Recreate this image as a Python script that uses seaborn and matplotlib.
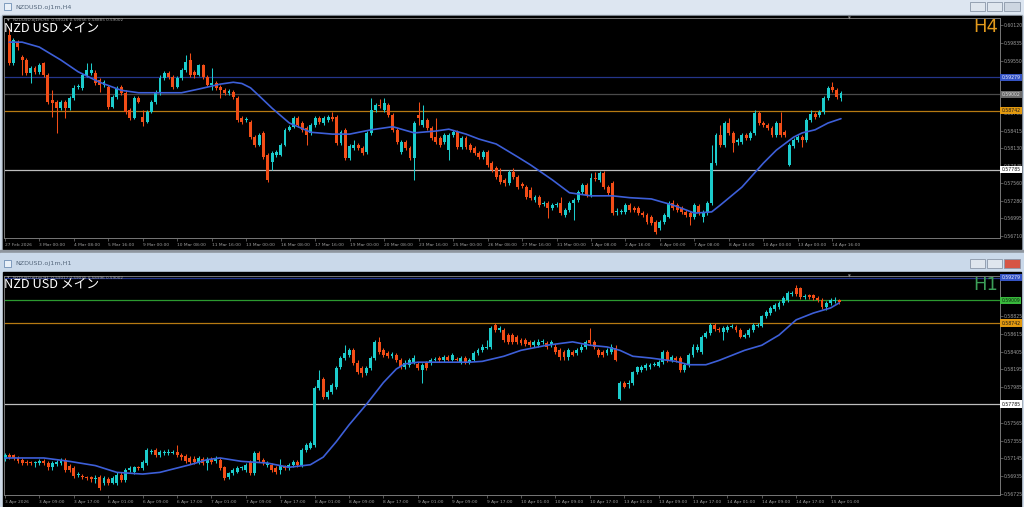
import numpy as np
import seaborn as sns
import matplotlib.pyplot as plt
from matplotlib.patches import Rectangle

sns.set_style("dark")
plt.rcParams['font.family'] = ['DejaVu Sans']

# %% H4 window data (NZDUSD, 27 Feb - 14 Apr)
h4_open = [0.5997, 0.5951, 0.5985, 0.5961, 0.5956, 0.5935, 0.5943, 0.5937, 0.5951, 0.5932,
           0.5891, 0.5888, 0.5878, 0.5888, 0.5878, 0.5895, 0.5912, 0.5911, 0.5932, 0.5935,
           0.5935, 0.5924, 0.5916, 0.5912, 0.5880, 0.5896, 0.5912, 0.5903, 0.5875, 0.5862,
           0.5895, 0.5864, 0.5856, 0.5872, 0.5888, 0.5903, 0.5927, 0.5935, 0.5929, 0.5912,
           0.5927, 0.5940, 0.5956, 0.5937, 0.5932, 0.5948, 0.5929, 0.5916, 0.5919, 0.5912,
           0.5908, 0.5903, 0.5904, 0.5895, 0.5862, 0.5859, 0.5856, 0.5831, 0.5818, 0.5838,
           0.5802, 0.5791, 0.5802, 0.5802, 0.5818, 0.5843, 0.5848, 0.5862, 0.5854, 0.5846,
           0.5838, 0.5851, 0.5862, 0.5854, 0.5859, 0.5864, 0.5864, 0.5822, 0.5843, 0.5797,
           0.5813, 0.5818, 0.5813, 0.5807, 0.5838, 0.5875, 0.5883, 0.5875, 0.5883, 0.5867,
           0.5843, 0.5807, 0.5823, 0.5813, 0.5797, 0.5867, 0.5851, 0.5859, 0.5846, 0.5831,
           0.5830, 0.5823, 0.5810, 0.5835, 0.5840, 0.5815, 0.5830, 0.5818, 0.5813, 0.5805,
           0.5799, 0.5807, 0.5789, 0.5781, 0.5770, 0.5762, 0.5757, 0.5775, 0.5767, 0.5755,
           0.5750, 0.5746, 0.5729, 0.5734, 0.5723, 0.5724, 0.5716, 0.5721, 0.5724, 0.5705,
           0.5713, 0.5724, 0.5729, 0.5742, 0.5754, 0.5737, 0.5765, 0.5762, 0.5773, 0.5750,
           0.5757, 0.5710, 0.5710, 0.5710, 0.5721, 0.5716, 0.5716, 0.5708, 0.5705, 0.5702,
           0.5694, 0.5684, 0.5694, 0.5702, 0.5724, 0.5721, 0.5716, 0.5710, 0.5708, 0.5702,
           0.5720, 0.5702, 0.5708, 0.5724, 0.5789, 0.5835, 0.5818, 0.5854, 0.5838, 0.5823,
           0.5823, 0.5835, 0.5830, 0.5838, 0.5870, 0.5854, 0.5851, 0.5846, 0.5835, 0.5854,
           0.5840, 0.5786, 0.5817, 0.5827, 0.5831, 0.5827, 0.5859, 0.5869, 0.5867, 0.5872,
           0.5895, 0.5912, 0.5908, 0.5895]
h4_high = [0.6008, 0.5992, 0.5988, 0.5964, 0.5959, 0.5946, 0.5946, 0.5951, 0.5953, 0.5935,
           0.5908, 0.5891, 0.5891, 0.5891, 0.5898, 0.5916, 0.5917, 0.5935, 0.5951, 0.5951,
           0.5940, 0.5927, 0.5924, 0.5916, 0.5899, 0.5914, 0.5916, 0.5908, 0.5878, 0.5898,
           0.5898, 0.5875, 0.5875, 0.5891, 0.5908, 0.5932, 0.5938, 0.5938, 0.5932, 0.5930,
           0.5943, 0.5964, 0.5967, 0.5940, 0.5950, 0.5950, 0.5932, 0.5943, 0.5922, 0.5916,
           0.5911, 0.5909, 0.5908, 0.5898, 0.5865, 0.5864, 0.5859, 0.5835, 0.5838, 0.5841,
           0.5805, 0.5809, 0.5810, 0.5822, 0.5846, 0.5851, 0.5865, 0.5865, 0.5857, 0.5849,
           0.5854, 0.5865, 0.5865, 0.5865, 0.5867, 0.5872, 0.5867, 0.5843, 0.5846, 0.5820,
           0.5827, 0.5822, 0.5817, 0.5841, 0.5895, 0.5886, 0.5893, 0.5895, 0.5886, 0.5870,
           0.5846, 0.5827, 0.5827, 0.5817, 0.5857, 0.5888, 0.5883, 0.5862, 0.5849, 0.5862,
           0.5833, 0.5838, 0.5838, 0.5843, 0.5843, 0.5833, 0.5833, 0.5822, 0.5817, 0.5809,
           0.5810, 0.5810, 0.5792, 0.5784, 0.5781, 0.5765, 0.5778, 0.5781, 0.5770, 0.5758,
           0.5754, 0.5750, 0.5737, 0.5737, 0.5728, 0.5728, 0.5724, 0.5726, 0.5734, 0.5716,
           0.5728, 0.5732, 0.5746, 0.5757, 0.5757, 0.5773, 0.5775, 0.5776, 0.5776, 0.5754,
           0.5760, 0.5716, 0.5715, 0.5724, 0.5724, 0.5720, 0.5720, 0.5711, 0.5708, 0.5705,
           0.5697, 0.5697, 0.5708, 0.5728, 0.5729, 0.5724, 0.5720, 0.5713, 0.5711, 0.5724,
           0.5723, 0.5713, 0.5728, 0.5818, 0.5838, 0.5851, 0.5857, 0.5862, 0.5841, 0.5830,
           0.5838, 0.5838, 0.5841, 0.5875, 0.5873, 0.5857, 0.5854, 0.5849, 0.5857, 0.5872,
           0.5843, 0.5822, 0.5830, 0.5835, 0.5835, 0.5862, 0.5875, 0.5872, 0.5875, 0.5898,
           0.5914, 0.5920, 0.5911, 0.5906]
h4_low = [0.5948, 0.5948, 0.5972, 0.5932, 0.5932, 0.5919, 0.5933, 0.5933, 0.5929, 0.5885,
          0.5864, 0.5838, 0.5875, 0.5862, 0.5875, 0.5891, 0.5909, 0.5908, 0.5929, 0.5932,
          0.5916, 0.5904, 0.5912, 0.5877, 0.5878, 0.5893, 0.5899, 0.5869, 0.5859, 0.5861,
          0.5886, 0.5849, 0.5854, 0.5870, 0.5885, 0.5899, 0.5924, 0.5925, 0.5909, 0.5911,
          0.5924, 0.5937, 0.5929, 0.5927, 0.5930, 0.5925, 0.5914, 0.5908, 0.5908, 0.5895,
          0.5899, 0.5899, 0.5893, 0.5856, 0.5852, 0.5856, 0.5828, 0.5815, 0.5817, 0.5796,
          0.5758, 0.5778, 0.5799, 0.5800, 0.5817, 0.5841, 0.5846, 0.5848, 0.5840, 0.5818,
          0.5835, 0.5848, 0.5852, 0.5851, 0.5856, 0.5857, 0.5818, 0.5818, 0.5794, 0.5794,
          0.5810, 0.5810, 0.5802, 0.5804, 0.5835, 0.5872, 0.5878, 0.5872, 0.5864, 0.5840,
          0.5820, 0.5804, 0.5810, 0.5794, 0.5762, 0.5851, 0.5848, 0.5843, 0.5827, 0.5820,
          0.5815, 0.5820, 0.5794, 0.5831, 0.5812, 0.5812, 0.5812, 0.5807, 0.5802, 0.5796,
          0.5796, 0.5783, 0.5775, 0.5763, 0.5755, 0.5752, 0.5754, 0.5763, 0.5747, 0.5749,
          0.5731, 0.5729, 0.5726, 0.5718, 0.5720, 0.5700, 0.5713, 0.5718, 0.5705, 0.5702,
          0.5710, 0.5697, 0.5726, 0.5739, 0.5734, 0.5734, 0.5760, 0.5758, 0.5747, 0.5737,
          0.5705, 0.5705, 0.5706, 0.5707, 0.5710, 0.5710, 0.5705, 0.5702, 0.5690, 0.5689,
          0.5674, 0.5681, 0.5690, 0.5700, 0.5713, 0.5710, 0.5707, 0.5702, 0.5689, 0.5699,
          0.5705, 0.5694, 0.5705, 0.5721, 0.5786, 0.5815, 0.5815, 0.5835, 0.5807, 0.5818,
          0.5820, 0.5827, 0.5827, 0.5835, 0.5851, 0.5848, 0.5843, 0.5831, 0.5831, 0.5831,
          0.5831, 0.5784, 0.5813, 0.5823, 0.5815, 0.5823, 0.5856, 0.5861, 0.5864, 0.5869,
          0.5891, 0.5904, 0.5893, 0.5890]
h4_close = [0.5951, 0.5988, 0.5977, 0.5956, 0.5935, 0.5943, 0.5937, 0.5948, 0.5932, 0.5888,
            0.5886, 0.5878, 0.5888, 0.5878, 0.5895, 0.5911, 0.5914, 0.5932, 0.5940, 0.5940,
            0.5919, 0.5916, 0.5920, 0.5880, 0.5896, 0.5911, 0.5903, 0.5872, 0.5862, 0.5895,
            0.5888, 0.5856, 0.5872, 0.5888, 0.5903, 0.5927, 0.5935, 0.5929, 0.5912, 0.5927,
            0.5940, 0.5953, 0.5932, 0.5932, 0.5948, 0.5929, 0.5916, 0.5919, 0.5911, 0.5908,
            0.5903, 0.5906, 0.5896, 0.5859, 0.5856, 0.5861, 0.5831, 0.5818, 0.5835, 0.5799,
            0.5762, 0.5805, 0.5807, 0.5818, 0.5843, 0.5848, 0.5862, 0.5851, 0.5843, 0.5835,
            0.5851, 0.5862, 0.5856, 0.5862, 0.5864, 0.5861, 0.5822, 0.5840, 0.5797, 0.5817,
            0.5818, 0.5813, 0.5805, 0.5838, 0.5875, 0.5883, 0.5882, 0.5886, 0.5867, 0.5843,
            0.5823, 0.5823, 0.5813, 0.5797, 0.5854, 0.5862, 0.5859, 0.5846, 0.5830, 0.5823,
            0.5818, 0.5835, 0.5835, 0.5840, 0.5815, 0.5830, 0.5815, 0.5810, 0.5805, 0.5799,
            0.5807, 0.5786, 0.5778, 0.5767, 0.5758, 0.5757, 0.5775, 0.5767, 0.5750, 0.5752,
            0.5734, 0.5732, 0.5734, 0.5721, 0.5724, 0.5716, 0.5721, 0.5723, 0.5708, 0.5713,
            0.5724, 0.5729, 0.5742, 0.5754, 0.5737, 0.5765, 0.5763, 0.5773, 0.5750, 0.5741,
            0.5708, 0.5712, 0.5712, 0.5721, 0.5713, 0.5713, 0.5708, 0.5705, 0.5694, 0.5692,
            0.5678, 0.5694, 0.5705, 0.5724, 0.5716, 0.5713, 0.5710, 0.5705, 0.5702, 0.5721,
            0.5708, 0.5710, 0.5724, 0.5789, 0.5835, 0.5818, 0.5854, 0.5838, 0.5822, 0.5827,
            0.5835, 0.5830, 0.5838, 0.5870, 0.5854, 0.5851, 0.5846, 0.5835, 0.5854, 0.5835,
            0.5835, 0.5818, 0.5827, 0.5831, 0.5827, 0.5859, 0.5869, 0.5864, 0.5872, 0.5895,
            0.5911, 0.5908, 0.5896, 0.5903]
# moving average read at a few bars
h4_ma_bar = [0, 3, 7, 12, 16, 21, 26, 30, 35, 40, 44, 49, 52, 54, 56, 58, 61, 65, 70, 75,
             79, 84, 89, 94, 99, 102, 106, 109, 113, 118, 121, 126, 130, 135, 140, 144, 149,
             154, 156, 159, 163, 165, 170, 175, 178, 182, 184, 187, 190, 193]
h4_ma = [0.5985, 0.5985, 0.5977, 0.5956, 0.5937, 0.5920, 0.5907, 0.5903, 0.5903, 0.5903,
         0.5909, 0.5917, 0.5920, 0.5918, 0.5911, 0.5898, 0.5878, 0.5854, 0.5839, 0.5836,
         0.5836, 0.5843, 0.5848, 0.5838, 0.5841, 0.5844, 0.5836, 0.5828, 0.5820, 0.5799,
         0.5786, 0.5762, 0.5741, 0.5736, 0.5736, 0.5733, 0.5731, 0.5721, 0.5716, 0.5708,
         0.5710, 0.5721, 0.5750, 0.5789, 0.5810, 0.5831, 0.5838, 0.5843, 0.5854, 0.5861]
h4_dates = ["27 Feb 2026", "3 Mar 00:00", "4 Mar 08:00", "5 Mar 16:00", "9 Mar 00:00",
            "10 Mar 08:00", "11 Mar 16:00", "13 Mar 00:00", "16 Mar 08:00", "17 Mar 16:00",
            "19 Mar 00:00", "20 Mar 08:00", "23 Mar 16:00", "25 Mar 00:00", "26 Mar 08:00",
            "27 Mar 16:00", "31 Mar 00:00", "1 Apr 08:00", "2 Apr 16:00", "6 Apr 00:00",
            "7 Apr 08:00", "8 Apr 16:00", "10 Apr 00:00", "13 Apr 00:00", "14 Apr 16:00"]
# scale labels that are not hidden behind the level boxes
h4_prices = [0.60120, 0.59835, 0.59550, 0.58700, 0.58415, 0.58130,
             0.57845, 0.57560, 0.57280, 0.56995, 0.56710]

# %% H1 window data (3 Apr - 15 Apr)
h1_open = [0.5714, 0.5719, 0.5719, 0.5715, 0.5713, 0.5710, 0.5710, 0.5709, 0.5709, 0.5711,
           0.5709, 0.5704, 0.5708, 0.5709, 0.5713, 0.5706, 0.5703, 0.5695, 0.5694, 0.5692,
           0.5692, 0.5690, 0.5692, 0.5685, 0.5690, 0.5686, 0.5685, 0.5695, 0.5689, 0.5701,
           0.5698, 0.5704, 0.5703, 0.5709, 0.5722, 0.5724, 0.5718, 0.5721, 0.5721, 0.5721,
           0.5722, 0.5718, 0.5717, 0.5715, 0.5714, 0.5710, 0.5714, 0.5709, 0.5714, 0.5711,
           0.5713, 0.5704, 0.5692, 0.5697, 0.5699, 0.5703, 0.5701, 0.5710, 0.5697, 0.5721,
           0.5713, 0.5707, 0.5707, 0.5703, 0.5701, 0.5704, 0.5703, 0.5707, 0.5710, 0.5707,
           0.5724, 0.5727, 0.5730, 0.5798, 0.5808, 0.5787, 0.5793, 0.5799, 0.5822, 0.5833,
           0.5836, 0.5842, 0.5827, 0.5821, 0.5815, 0.5821, 0.5833, 0.5852, 0.5842, 0.5839,
           0.5835, 0.5837, 0.5831, 0.5822, 0.5825, 0.5828, 0.5826, 0.5819, 0.5827, 0.5827,
           0.5831, 0.5833, 0.5830, 0.5834, 0.5831, 0.5832, 0.5828, 0.5833, 0.5828, 0.5831,
           0.5839, 0.5842, 0.5845, 0.5846, 0.5872, 0.5866, 0.5866, 0.5860, 0.5860, 0.5858,
           0.5854, 0.5854, 0.5852, 0.5848, 0.5848, 0.5852, 0.5851, 0.5848, 0.5846, 0.5842,
           0.5840, 0.5834, 0.5840, 0.5839, 0.5842, 0.5846, 0.5854, 0.5852, 0.5842, 0.5840,
           0.5839, 0.5840, 0.5845, 0.5785, 0.5804, 0.5802, 0.5803, 0.5816, 0.5819, 0.5821,
           0.5822, 0.5825, 0.5824, 0.5828, 0.5840, 0.5831, 0.5833, 0.5833, 0.5819, 0.5825,
           0.5837, 0.5842, 0.5840, 0.5858, 0.5862, 0.5872, 0.5867, 0.5864, 0.5866, 0.5870,
           0.5870, 0.5866, 0.5858, 0.5860, 0.5866, 0.5871, 0.5871, 0.5882, 0.5886, 0.5891,
           0.5893, 0.5898, 0.5901, 0.5908, 0.5915, 0.5915, 0.5905, 0.5907, 0.5907, 0.5904,
           0.5901, 0.5893, 0.5898, 0.5900, 0.5901]
h1_high = [0.5721, 0.5721, 0.5720, 0.5717, 0.5715, 0.5713, 0.5712, 0.5712, 0.5714, 0.5714,
           0.5711, 0.5711, 0.5713, 0.5715, 0.5715, 0.5708, 0.5706, 0.5699, 0.5696, 0.5694,
           0.5694, 0.5695, 0.5695, 0.5694, 0.5692, 0.5694, 0.5698, 0.5698, 0.5703, 0.5706,
           0.5706, 0.5706, 0.5713, 0.5727, 0.5726, 0.5727, 0.5724, 0.5724, 0.5725, 0.5724,
           0.5730, 0.5721, 0.5720, 0.5717, 0.5717, 0.5717, 0.5716, 0.5716, 0.5716, 0.5717,
           0.5715, 0.5706, 0.5699, 0.5703, 0.5706, 0.5706, 0.5709, 0.5713, 0.5723, 0.5723,
           0.5715, 0.5711, 0.5709, 0.5706, 0.5714, 0.5707, 0.5709, 0.5713, 0.5713, 0.5727,
           0.5733, 0.5735, 0.5800, 0.5819, 0.5811, 0.5795, 0.5804, 0.5824, 0.5835, 0.5848,
           0.5845, 0.5845, 0.5830, 0.5824, 0.5824, 0.5835, 0.5854, 0.5858, 0.5845, 0.5841,
           0.5840, 0.5839, 0.5833, 0.5830, 0.5833, 0.5836, 0.5828, 0.5827, 0.5829, 0.5833,
           0.5834, 0.5835, 0.5837, 0.5837, 0.5839, 0.5834, 0.5835, 0.5835, 0.5833, 0.5841,
           0.5845, 0.5849, 0.5854, 0.5871, 0.5874, 0.5871, 0.5868, 0.5862, 0.5862, 0.5860,
           0.5857, 0.5857, 0.5854, 0.5854, 0.5855, 0.5855, 0.5853, 0.5854, 0.5849, 0.5845,
           0.5842, 0.5845, 0.5842, 0.5845, 0.5849, 0.5854, 0.5868, 0.5854, 0.5845, 0.5842,
           0.5845, 0.5849, 0.5848, 0.5806, 0.5806, 0.5807, 0.5818, 0.5824, 0.5825, 0.5827,
           0.5827, 0.5828, 0.5831, 0.5842, 0.5842, 0.5837, 0.5835, 0.5835, 0.5827, 0.5839,
           0.5849, 0.5849, 0.5860, 0.5865, 0.5874, 0.5874, 0.5869, 0.5871, 0.5872, 0.5873,
           0.5872, 0.5868, 0.5862, 0.5868, 0.5874, 0.5874, 0.5884, 0.5890, 0.5894, 0.5898,
           0.5900, 0.5906, 0.5912, 0.5912, 0.5919, 0.5917, 0.5908, 0.5909, 0.5909, 0.5906,
           0.5904, 0.5900, 0.5904, 0.5905, 0.5903]
h1_low = [0.5711, 0.5714, 0.5713, 0.5709, 0.5707, 0.5707, 0.5707, 0.5704, 0.5707, 0.5707,
          0.5701, 0.5701, 0.5705, 0.5707, 0.5698, 0.5698, 0.5691, 0.5693, 0.5690, 0.5689,
          0.5687, 0.5685, 0.5677, 0.5683, 0.5683, 0.5684, 0.5683, 0.5687, 0.5687, 0.5698,
          0.5696, 0.5701, 0.5701, 0.5707, 0.5720, 0.5716, 0.5716, 0.5719, 0.5719, 0.5720,
          0.5716, 0.5713, 0.5709, 0.5708, 0.5708, 0.5708, 0.5707, 0.5701, 0.5708, 0.5709,
          0.5701, 0.5689, 0.5690, 0.5695, 0.5697, 0.5701, 0.5698, 0.5695, 0.5695, 0.5710,
          0.5707, 0.5704, 0.5698, 0.5696, 0.5696, 0.5701, 0.5701, 0.5704, 0.5704, 0.5704,
          0.5722, 0.5725, 0.5728, 0.5795, 0.5785, 0.5785, 0.5790, 0.5796, 0.5820, 0.5831,
          0.5834, 0.5825, 0.5814, 0.5810, 0.5813, 0.5819, 0.5831, 0.5838, 0.5834, 0.5833,
          0.5833, 0.5828, 0.5820, 0.5820, 0.5822, 0.5826, 0.5819, 0.5803, 0.5819, 0.5825,
          0.5829, 0.5828, 0.5828, 0.5829, 0.5829, 0.5829, 0.5826, 0.5826, 0.5826, 0.5829,
          0.5837, 0.5840, 0.5843, 0.5843, 0.5864, 0.5864, 0.5852, 0.5849, 0.5850, 0.5849,
          0.5848, 0.5847, 0.5846, 0.5846, 0.5846, 0.5850, 0.5844, 0.5846, 0.5838, 0.5831,
          0.5831, 0.5831, 0.5835, 0.5837, 0.5840, 0.5844, 0.5848, 0.5844, 0.5834, 0.5834,
          0.5837, 0.5838, 0.5829, 0.5783, 0.5797, 0.5798, 0.5801, 0.5814, 0.5817, 0.5819,
          0.5820, 0.5823, 0.5822, 0.5826, 0.5828, 0.5828, 0.5828, 0.5816, 0.5816, 0.5822,
          0.5834, 0.5840, 0.5838, 0.5856, 0.5860, 0.5865, 0.5864, 0.5854, 0.5864, 0.5868,
          0.5864, 0.5856, 0.5856, 0.5858, 0.5864, 0.5869, 0.5869, 0.5880, 0.5884, 0.5888,
          0.5891, 0.5896, 0.5899, 0.5906, 0.5906, 0.5903, 0.5903, 0.5903, 0.5901, 0.5899,
          0.5891, 0.5890, 0.5896, 0.5898, 0.5897]
h1_close = [0.5719, 0.5716, 0.5715, 0.5711, 0.5709, 0.5709, 0.5709, 0.5710, 0.5711, 0.5709,
            0.5704, 0.5709, 0.5710, 0.5713, 0.5701, 0.5701, 0.5694, 0.5696, 0.5692, 0.5691,
            0.5690, 0.5691, 0.5680, 0.5691, 0.5685, 0.5691, 0.5695, 0.5689, 0.5701, 0.5703,
            0.5704, 0.5703, 0.5710, 0.5724, 0.5723, 0.5718, 0.5722, 0.5722, 0.5722, 0.5722,
            0.5718, 0.5716, 0.5711, 0.5710, 0.5710, 0.5715, 0.5709, 0.5714, 0.5710, 0.5715,
            0.5703, 0.5691, 0.5697, 0.5701, 0.5703, 0.5704, 0.5707, 0.5697, 0.5721, 0.5713,
            0.5709, 0.5709, 0.5701, 0.5699, 0.5707, 0.5703, 0.5707, 0.5710, 0.5707, 0.5724,
            0.5730, 0.5733, 0.5798, 0.5807, 0.5787, 0.5793, 0.5801, 0.5821, 0.5833, 0.5839,
            0.5842, 0.5827, 0.5816, 0.5815, 0.5821, 0.5833, 0.5852, 0.5840, 0.5836, 0.5835,
            0.5838, 0.5831, 0.5822, 0.5827, 0.5831, 0.5833, 0.5821, 0.5825, 0.5821, 0.5831,
            0.5832, 0.5830, 0.5834, 0.5831, 0.5837, 0.5831, 0.5833, 0.5828, 0.5831, 0.5839,
            0.5842, 0.5846, 0.5846, 0.5868, 0.5866, 0.5868, 0.5854, 0.5852, 0.5852, 0.5852,
            0.5851, 0.5850, 0.5848, 0.5852, 0.5852, 0.5853, 0.5846, 0.5852, 0.5840, 0.5834,
            0.5834, 0.5842, 0.5837, 0.5842, 0.5846, 0.5852, 0.5851, 0.5846, 0.5836, 0.5836,
            0.5842, 0.5846, 0.5831, 0.5804, 0.5799, 0.5803, 0.5816, 0.5822, 0.5822, 0.5825,
            0.5825, 0.5826, 0.5828, 0.5840, 0.5831, 0.5834, 0.5830, 0.5819, 0.5825, 0.5837,
            0.5846, 0.5846, 0.5858, 0.5862, 0.5872, 0.5867, 0.5866, 0.5868, 0.5870, 0.5871,
            0.5866, 0.5858, 0.5860, 0.5866, 0.5872, 0.5872, 0.5882, 0.5887, 0.5892, 0.5896,
            0.5898, 0.5904, 0.5910, 0.5910, 0.5908, 0.5905, 0.5906, 0.5905, 0.5904, 0.5901,
            0.5893, 0.5898, 0.5901, 0.5901, 0.5899]
h1_ma_bar = [0, 9, 15, 21, 26, 32, 36, 43, 47, 50, 55, 61, 66, 71, 74, 77, 80, 84, 88, 91,
             93, 96, 102, 108, 111, 116, 120, 126, 132, 136, 140, 143, 146, 150, 156, 159,
             163, 166, 169, 172, 176, 180, 184, 188, 192, 194]
h1_ma = [0.5715, 0.5715, 0.5711, 0.5706, 0.5698, 0.5696, 0.5698, 0.5707, 0.5713, 0.5715,
         0.5711, 0.5709, 0.5704, 0.5707, 0.5716, 0.5734, 0.5754, 0.5778, 0.5804, 0.5820,
         0.5826, 0.5828, 0.5828, 0.5828, 0.5829, 0.5835, 0.5842, 0.5848, 0.5852, 0.5848,
         0.5846, 0.5842, 0.5835, 0.5833, 0.5829, 0.5825, 0.5825, 0.5830, 0.5836, 0.5842,
         0.5848, 0.5860, 0.5878, 0.5886, 0.5892, 0.5898]
h1_dates = ["3 Apr 2026", "3 Apr 09:00", "3 Apr 17:00", "6 Apr 01:00", "6 Apr 09:00",
            "6 Apr 17:00", "7 Apr 01:00", "7 Apr 09:00", "7 Apr 17:00", "8 Apr 01:00",
            "8 Apr 09:00", "8 Apr 17:00", "9 Apr 01:00", "9 Apr 09:00", "9 Apr 17:00",
            "10 Apr 01:00", "10 Apr 09:00", "10 Apr 17:00", "13 Apr 01:00", "13 Apr 09:00",
            "13 Apr 17:00", "14 Apr 01:00", "14 Apr 09:00", "14 Apr 17:00", "15 Apr 01:00"]
h1_prices = [0.58825, 0.58615, 0.58405, 0.58195, 0.57985,
             0.57565, 0.57355, 0.57145, 0.56935, 0.56725]

# horizontal levels (price, line colour, label bg, label text colour)
h4_levels = [(0.59279, '#24358a', '#3453c4', '#e8ecff'),
             (0.59002, '#4a4a4a', '#6b6b6b', '#e0e0e0'),
             (0.58742, '#b77a12', '#e39a10', '#1a1a1a'),
             (0.57785, '#bdbdbd', '#ffffff', '#111111')]
h1_levels = [(0.59279, '#24358a', '#3453c4', '#e8ecff'),
             (0.59009, '#2c9a30', '#38b83c', '#0d2a0d'),
             (0.58742, '#b77a12', '#e39a10', '#1a1a1a'),
             (0.57785, '#bdbdbd', '#ffffff', '#111111')]

UP = '#1ccccc'
DN = '#f24d17'
MA_COL = '#3d5fd8'
GRAY = '#9d9d9d'

W, H = 1024, 507
fig = plt.figure(figsize=(W / 100, H / 100), dpi=100)
fig.patch.set_facecolor('#cfdbe9')

# window chrome (pixel coords)
bg = fig.add_axes([0, 0, 1, 1])
bg.set_xlim(0, W)
bg.set_ylim(H, 0)
bg.axis('off')
bg.add_patch(Rectangle((0, 0), W, 15, color='#dde6f1'))
bg.add_patch(Rectangle((2, 15), 1020, 235, color='#9aa4b0'))
bg.add_patch(Rectangle((3, 16), 1018, 233, color='black'))
bg.add_patch(Rectangle((0, 250), W, 3, color='#8e959e'))
bg.add_patch(Rectangle((0, 253), W, 19, color='#cad9ea'))
bg.add_patch(Rectangle((3, 272), 1018, 235, color='black'))
for yy, tt in [(7, "NZDUSD.oj1m,H4"), (264, "NZDUSD.oj1m,H1")]:
    bg.add_patch(Rectangle((4, yy - 4), 7, 7, fc='#e9f0f8', ec='#6f8fb5', lw=0.6))
    bg.text(15, yy, tt, fontsize=4.6, color='#55677c', va='center', ha='left')
for yy, last in [(2, '#cdd6e1'), (259, '#d65444')]:
    bg.add_patch(Rectangle((970, yy), 15, 9, fc='#dfe6ee', ec='#8a97a8', lw=0.6))
    bg.add_patch(Rectangle((987, yy), 15, 9, fc='#dfe6ee', ec='#8a97a8', lw=0.6))
    bg.add_patch(Rectangle((1004, yy), 16, 9, fc=last, ec='#8a97a8', lw=0.6))


def px_axes(x0, y0, x1, y1):
    return fig.add_axes([x0 / W, 1 - y1 / H, (x1 - x0) / W, (y1 - y0) / H])


def candles(ax, o, h, l, c, min_h):
    o, h, l, c = map(np.asarray, (o, h, l, c))
    idx = np.arange(len(o))
    col = np.where(c >= o, UP, DN)
    ax.vlines(idx, l, h, colors=col, lw=0.75, zorder=3)
    bot = np.minimum(o, c)
    hgt = np.abs(c - o)
    small = hgt < min_h
    bot = np.where(small, (o + c) / 2 - min_h / 2, bot)
    hgt = np.where(small, min_h, hgt)
    ax.bar(idx, hgt, bottom=bot, width=0.68, color=col, linewidth=0, zorder=4)


def chart(ax, o, h, l, c, ma_bar, ma, levels, prices, dates, first_tick, ylim, xlim, min_h):
    ax.set_facecolor('none')
    for lev, lc, _, _ in levels:
        ax.axhline(lev, color=lc, lw=0.9, zorder=2)
    candles(ax, o, h, l, c, min_h)
    sns.lineplot(x=ma_bar, y=ma, ax=ax, color=MA_COL, lw=1.2, zorder=5)
    ax.set_xlim(*xlim)
    ax.set_ylim(*ylim)
    ax.grid(False)
    for s in ax.spines.values():
        s.set_color('#777777')
        s.set_linewidth(0.7)
    ax.yaxis.tick_right()
    ax.set_yticks(prices)
    ax.set_yticklabels([f"{p:.5f}" for p in prices])
    ax.set_xticks(np.arange(len(dates)) * 8 + first_tick)
    ax.set_xticklabels(dates)
    ax.tick_params(axis='y', right=True, left=False, length=2, width=0.5, color='#777777',
                   labelcolor=GRAY, labelsize=3.3, pad=1, direction='out')
    ax.tick_params(axis='x', bottom=True, length=2.5, width=0.5, color='#777777',
                   labelcolor=GRAY, labelsize=3.2, pad=1.2, direction='out')
    for lab in ax.get_xticklabels():
        lab.set_horizontalalignment('left')
    ax.set_xlabel('')
    ax.set_ylabel('')
    for lev, _, fc, tc in levels:
        ax.text(1.0015, lev, f"{lev:.5f}", transform=ax.get_yaxis_transform(),
                fontsize=3.3, color=tc, va='center', ha='left', zorder=10, clip_on=False,
                bbox=dict(boxstyle='square,pad=0.25', fc=fc, ec='none'))


ax1 = px_axes(4, 18, 1000, 238)
chart(ax1, h4_open, h4_high, h4_low, h4_close, h4_ma_bar, h4_ma, h4_levels, h4_prices,
      h4_dates, -1, (0.56677, 0.60241), (-1.2, 229.9), 0.00015)

ax2 = px_axes(4, 276, 1000, 495)
chart(ax2, h1_open, h1_high, h1_low, h1_close, h1_ma_bar, h1_ma, h1_levels, h1_prices,
      h1_dates, 0, (0.56713, 0.59297), (-0.25, 231.4), 0.00011)

# overlay texts
ov = fig.add_axes([0, 0, 1, 1])
ov.set_xlim(0, W)
ov.set_ylim(H, 0)
ov.axis('off')
ov.patch.set_alpha(0)
ov.text(13, 20.5, "NZDUSD.oj1m,H4  0.59026 0.59056 0.58885 0.59002", fontsize=3.0,
        color='#a5a5a5', va='center')
ov.text(13, 277.5, "NZDUSD.oj1m,H1  0.59017 0.59035 0.58996 0.59002", fontsize=3.0,
        color='#a5a5a5', va='center')
for yy in (20.5, 277.5):
    ov.text(7, yy, "\u25bc", fontsize=2.4, color='#a5a5a5', va='center')
    ov.text(849, yy - 1.5, "\u25bc", fontsize=2.6, color='#8a8a8a', va='center', ha='center')
for yy in (28.5, 284.5):
    ov.text(4.5, yy, "NZD USD メイン", fontsize=9.2, color='white', va='center', ha='left',
            family=['Noto Sans CJK JP', 'DejaVu Sans'])
ov.text(986, 26.5, "H4", fontsize=13, color='#e39a1c', va='center', ha='center',
        family=['Liberation Sans Narrow', 'DejaVu Sans'])
ov.text(986, 285.5, "H1", fontsize=13, color='#3c9f58', va='center', ha='center',
        family=['Liberation Sans Narrow', 'DejaVu Sans'])

fig.savefig("out.png", dpi=100, facecolor=fig.get_facecolor())
